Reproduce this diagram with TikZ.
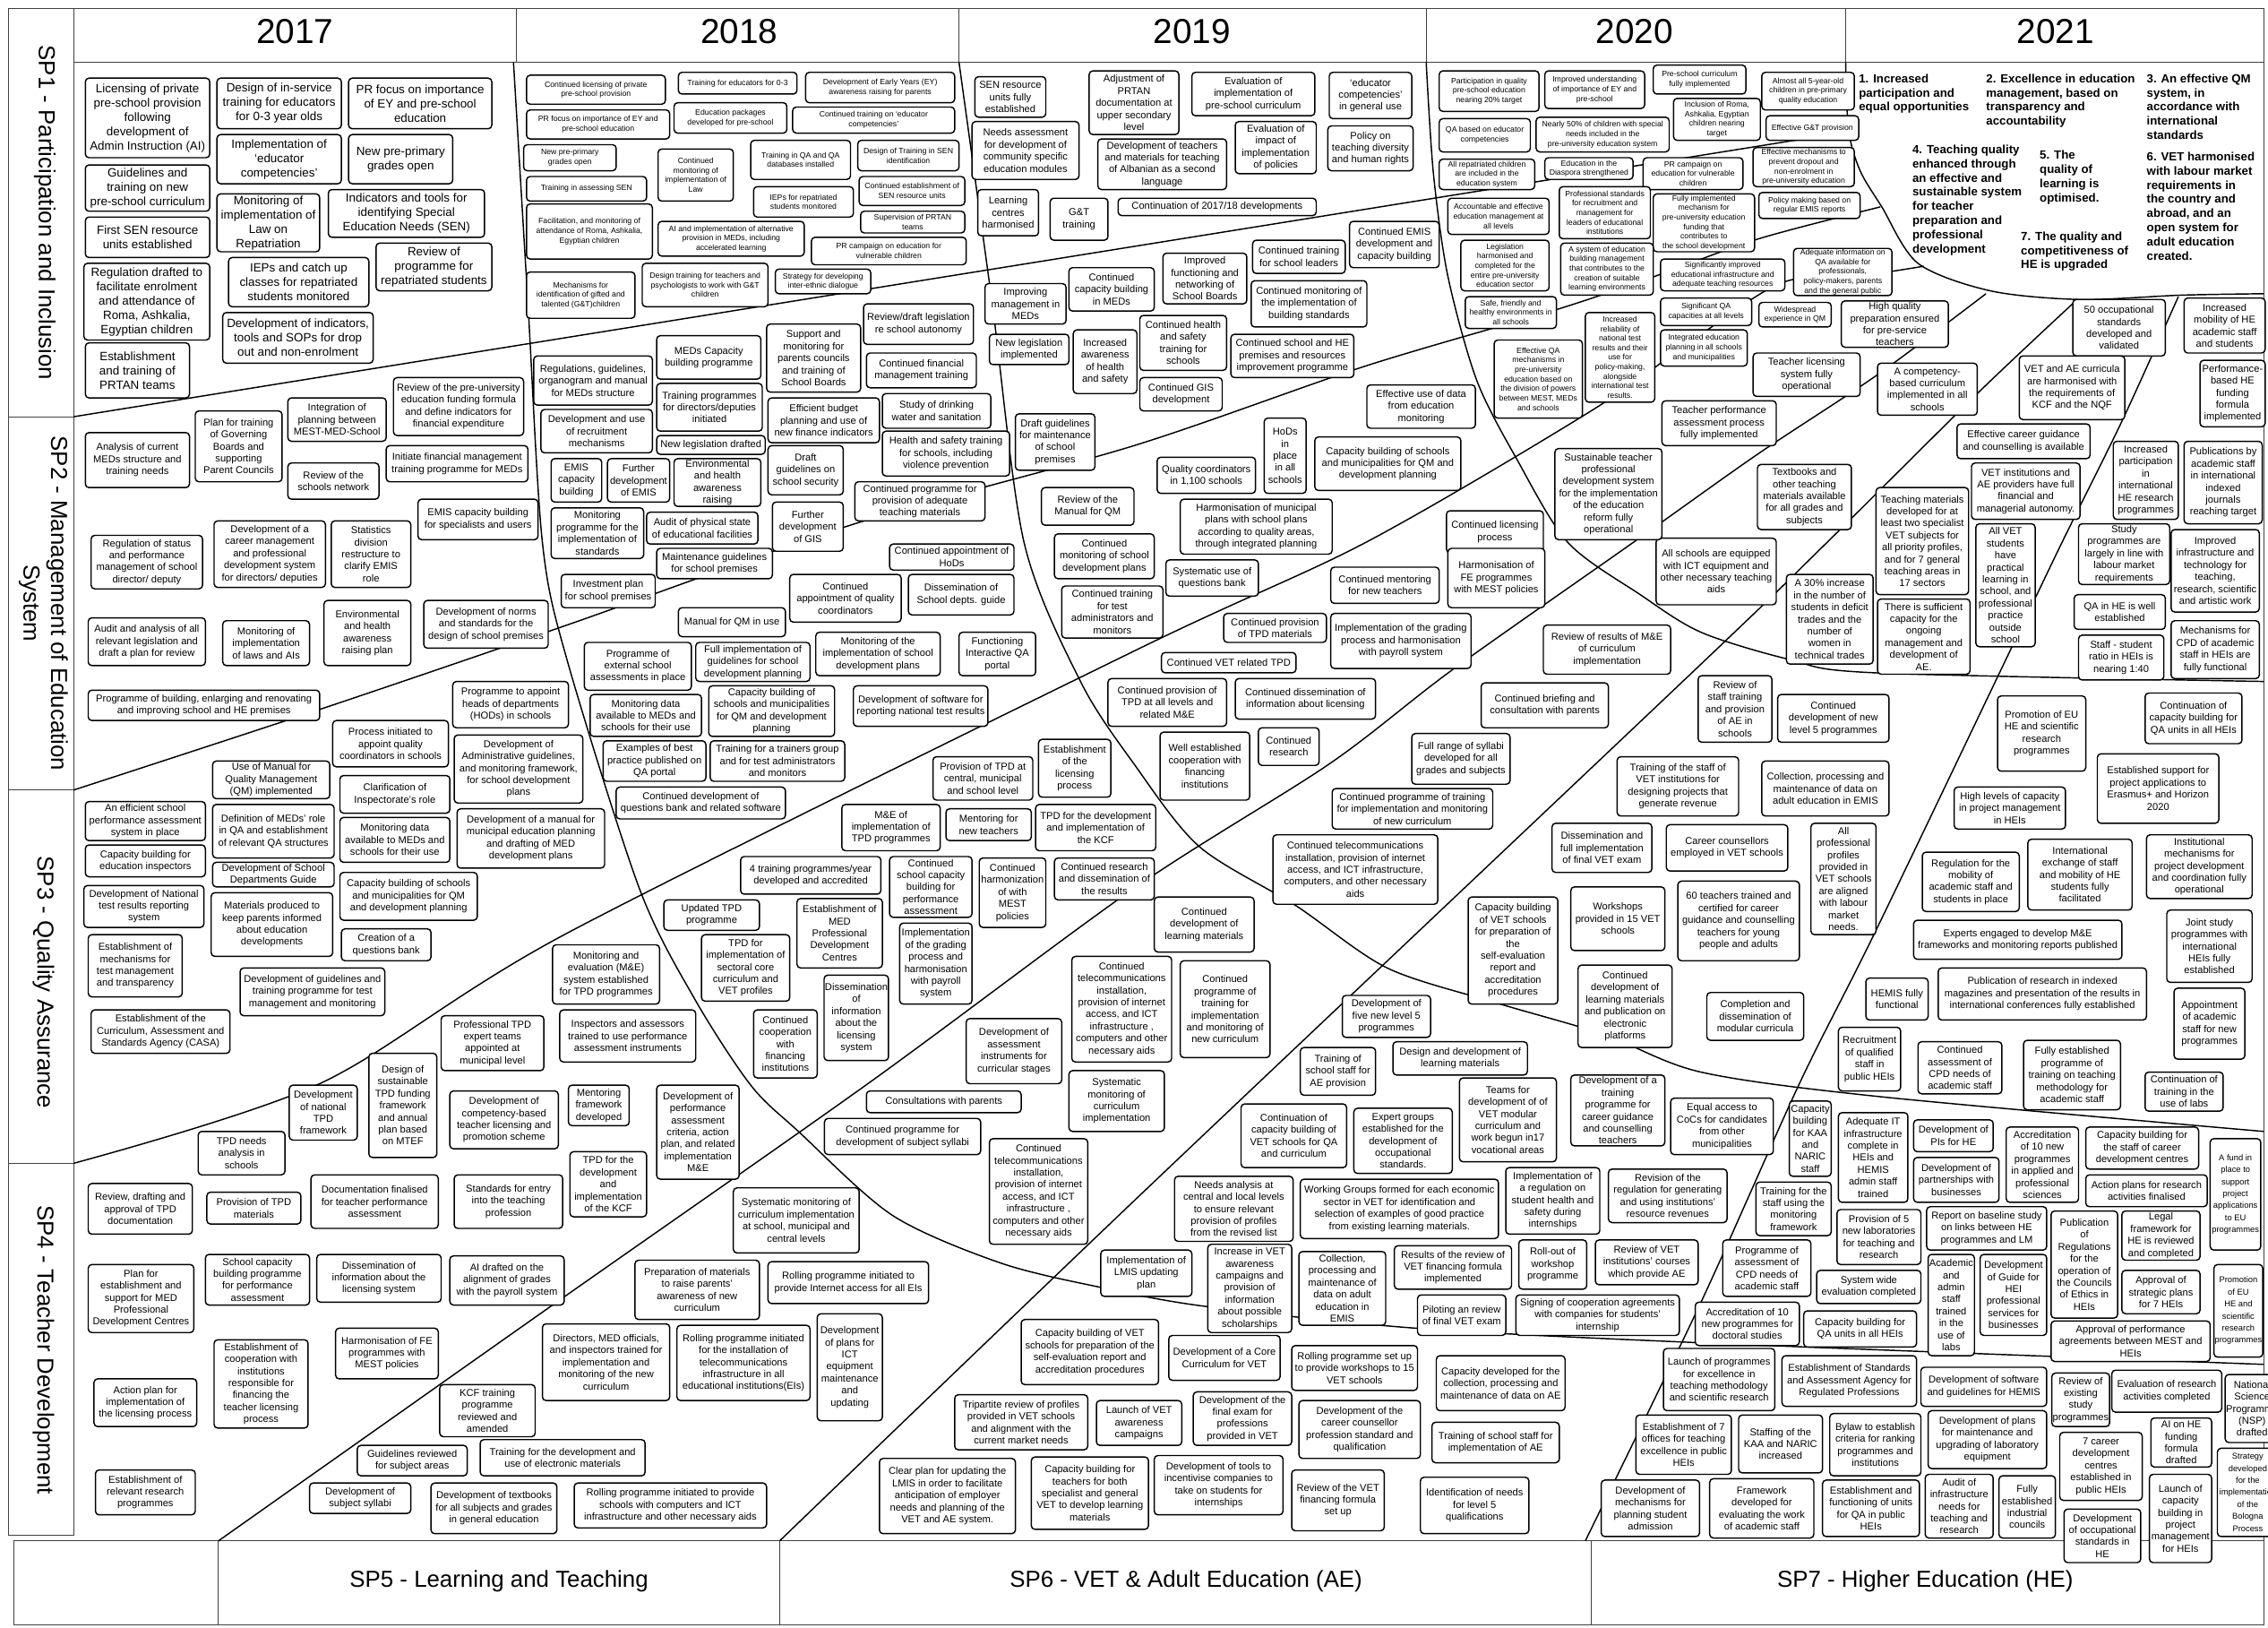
\documentclass[tikz,border=0pt]{standalone}
\usepackage{fontspec}
\setmainfont{Liberation Sans}
\newcommand\fntL{\fontsize{8.3}{9.9}\selectfont}
\newcommand\fntM{\fontsize{6.9}{8.3}\selectfont}
\newcommand\fntS{\fontsize{5.4}{6.6}\selectfont}
\newcommand\fntN{\fontsize{5.8}{8.3}\selectfont}
\newcommand\fntG{\fontsize{8.2}{9.8}\selectfont\bfseries}
\newcommand\Bx[7]{%
\pgfmathsetmacro\bxw{#4-(#2)}%
\pgfmathsetmacro\bxh{#5-(#3)}%
\pgfmathsetmacro\bxcx{(#2+#4)/2}%
\pgfmathsetmacro\bxcy{(#3+#5)/2}%
\node[bxs,#6,minimum width=\bxw pt,minimum height=\bxh pt] (#1) at (\bxcx,\bxcy) {#7};}
\begin{document}
\begin{tikzpicture}[x=1pt,y=-1pt,
 bxs/.style={draw,line width=0.9pt,rounded corners=2.5pt,fill=white,align=center,inner sep=0.6pt,font=\fntM},
 fl/.style={font=\fntL}, fs/.style={font=\fntS}, fn/.style={font=\fntN},
 sep/.style={line width=0.9pt},
 frm/.style={line width=0.7pt,draw=black!75},
 goal/.style={font=\fntG,align=left,anchor=north west,inner sep=0pt},
 yr/.style={font=\fontsize{24}{28}\selectfont},
 spl/.style={font=\fontsize{16}{19}\selectfont,align=center}]
\useasboundingbox (0,0) rectangle (1568,1125);
\fill[white] (0,0) rectangle (1568,1125);
% frame
\draw[frm] (6,6) rectangle (51,1061);
\draw[frm] (51,6) rectangle (1565,43);
\draw[frm] (357,6)--(357,43) (663,6)--(663,43) (986,6)--(986,43) (1276,6)--(1276,43);
\draw[frm] (6,288)--(51,288) (6,546)--(51,546) (6,804)--(51,804);
\draw[frm] (1565,43)--(1565,1065);
\draw[frm] (9.5,1065) rectangle (1565,1123);
\draw[frm] (151,1065)--(151,1123) (539,1065)--(539,1123) (1100,1065)--(1100,1123);
% labels
\node[yr] (y17) at (204,22) {2017};
\node[yr] (y18) at (511,22) {2018};
\node[yr] (y19) at (824,22) {2019};
\node[yr] (y20) at (1130,22) {2020};
\node[yr] (y21) at (1421,22) {2021};
\node[spl,rotate=-90] (sp1) at (31,147) {SP1 - Participation and Inclusion};
\node[spl,rotate=-90] (sp2) at (30,417) {SP2 - Management of Education\\System};
\node[spl,rotate=-90] (sp3) at (30,679) {SP3 - Quality Assurance};
\node[spl,rotate=-90] (sp4) at (30,933) {SP4 - Teacher Development};
\node[spl] (sp5) at (345,1093) {SP5 - Learning and Teaching};
\node[spl] (sp6) at (820,1093) {SP6 - VET \& Adult Education (AE)};
\node[spl] (sp7) at (1331,1093) {SP7 - Higher Education (HE)};
% separators
\draw[sep] (51,288) -- (1278,91);
\draw[sep] plot[smooth] coordinates {(51,546) (222,490) (392,432) (591,362) (784,308) (944,253) (1076,214) (1144,191) (1216,165) (1300,143)};
\draw[sep] plot[smooth] coordinates {(51,804) (221,749) (392,645) (784,450) (944,375) (1100,284) (1176,231) (1233,195) (1290,190) (1330,184)};
\draw[sep] plot[smooth] coordinates {(151,1065) (382,902) (600,749) (784,614) (919,528) (1004,463) (1129,375) (1215,314) (1298,259) (1373,203)};
\draw[sep] plot[smooth] coordinates {(539,1065) (784,830) (1176,459) (1263,375) (1367,272) (1435,208)};
\draw[sep] plot[smooth] coordinates {(1096,1065) (1176,900) (1244,749) (1296,645) (1391,447) (1426,374) (1468,289) (1506,205)};
\draw[sep] plot[smooth] coordinates {(355,43) (365,210) (375,375) (392,456) (442,614) (480,690) (519,750) (552,782) (617,840) (692,873) (762,890) (834,903) (979,918) (1174,928) (1565,943)};
\draw[sep] plot[smooth] coordinates {(663,43) (686,210) (708,375) (747,471) (784,528) (829,585) (896,626) (959,669) (1034,693) (1109,715) (1176,741) (1300,758) (1565,782)};
\draw[sep] plot[smooth] coordinates {(986,43) (991,120) (1001,191) (1021,263) (1049,318) (1084,375) (1134,411) (1176,437) (1238,456) (1296,465) (1565,471)};
\draw[sep] plot[smooth] coordinates {(1276,43) (1278,90) (1286,118) (1301,143) (1326,182) (1376,201) (1438,207) (1508,204) (1565,203)};
% ---- 2017 SP1
\Bx{b1}{59}{54}{145}{109}{fl}{Licensing of private\\pre-school provision\\following\\development of\\Admin Instruction (AI)}
\Bx{b2}{150}{54}{236}{89}{fl}{Design of in-service\\training for educators\\for 0-3 year olds}
\Bx{b3}{241}{54}{340}{89}{fl}{PR focus on importance\\of EY and pre-school\\education}
\Bx{b4}{59}{114}{145}{146}{fl}{Guidelines and\\training on new\\pre-school curriculum}
\Bx{b5}{150}{93}{236}{127}{fl}{Implementation of\\`educator\\competencies'}
\Bx{b6}{241}{93}{313}{127}{fl}{New pre-primary\\grades open}
\Bx{b7}{59}{150}{145}{178}{fl}{First SEN resource\\units established}
\Bx{b8}{150}{134}{221}{174}{fl}{Monitoring of\\implementation of\\Law on\\Repatriation}
\Bx{b9}{227}{131}{335}{164}{fl}{Indicators and tools for\\identifying  Special\\Education Needs (SEN)}
\Bx{b10}{58}{182}{145}{235}{fl}{Regulation drafted to\\facilitate enrolment\\and attendance of\\Roma, Ashkalia,\\Egyptian children}
\Bx{b11}{158}{178}{255}{212}{fl}{IEPs and catch up\\classes for repatriated\\students monitored}
\Bx{b12}{260}{168}{340}{201}{fl}{Review of\\programme for\\repatriated students}
\Bx{b13}{154}{216}{258}{251}{fl}{Development of indicators,\\tools and SOPs for drop\\out and non-enrolment}
\Bx{b14}{59}{237}{131}{275}{fl}{Establishment\\and training of\\PRTAN teams}
% ---- 2017 SP2
\Bx{b15}{59}{299}{131}{337}{}{Analysis of current\\MEDs structure and\\training needs}
\Bx{b16}{135}{284}{195}{333}{}{Plan for training\\of Governing\\Boards and\\supporting\\Parent Councils}
\Bx{b17}{199}{275}{267}{305}{}{Integration of\\planning between\\MEST-MED-School}
\Bx{b18}{199}{320}{262}{345}{}{Review of the\\schools network}
\Bx{b19}{272}{261}{362}{301}{}{Review of the pre-university\\education funding formula\\and define indicators for\\financial expenditure}
\Bx{b20}{267}{308}{365}{333}{}{Initiate financial management\\training programme  for MEDs}
\Bx{b21}{289}{345}{372}{373}{}{EMIS capacity building\\for specialists and users}
\Bx{b22}{63}{370}{140}{407}{}{Regulation of status\\and performance\\management of school\\director/ deputy}
\Bx{b23}{148}{360}{225}{406}{}{Development of a\\career management\\and professional\\development system\\for directors/ deputies}
\Bx{b24}{229}{360}{284}{406}{}{Statistics\\division\\restructure to\\clarify EMIS\\role}
\Bx{b25}{61}{427}{142}{460}{}{Audit and analysis of all\\relevant legislation and\\draft a plan for review}
\Bx{b26}{154}{429}{214}{460}{}{Monitoring of\\implementation\\of laws and AIs}
\Bx{b27}{224}{415}{284}{460}{}{Environmental\\and health\\awareness\\raising plan}
\Bx{b28}{293}{415}{379}{448}{}{Development of norms\\and standards for the\\design of school premises}
\Bx{b29}{61}{477}{221}{498}{}{Programme of building, enlarging  and renovating\\and improving school and HE premises}
\Bx{b30}{313}{471}{393}{503}{}{Programme to appoint\\heads of departments\\(HODs) in schools}
\Bx{b31}{230}{498}{310}{530}{}{Process initiated to\\appoint quality\\coordinators in schools}
\Bx{b32}{147}{526}{228}{552}{}{Use of Manual for\\Quality Management\\(QM) implemented}
\Bx{b33}{314}{508}{403}{555}{}{Development of\\Administrative guidelines,\\and monitoring framework,\\for school development\\plans}
% ---- 2017 SP3
\Bx{b34}{59}{554}{142}{581}{}{An efficient school\\performance assessment\\system in place}
\Bx{b35}{147}{556}{231}{593}{}{Definition of MEDs' role\\in QA and  establishment\\of relevant QA structures}
\Bx{b36}{235}{536}{311}{562}{}{Clarification of\\Inspectorate's role}
\Bx{b37}{316}{559}{418}{600}{}{Development of a manual for\\municipal education planning\\and drafting of MED\\development plans}
\Bx{b38}{59}{584}{142}{606}{}{Capacity building for\\education inspectors}
\Bx{b39}{235}{565}{311}{596}{}{Monitoring data\\available to MEDs and\\schools for their use}
\Bx{b40}{147}{596}{231}{613}{}{Development of  School\\Departments Guide}
\Bx{b41}{58}{612}{141}{641}{}{Development of National\\test results reporting\\system}
\Bx{b42}{146}{617}{230}{661}{}{Materials produced to\\keep parents informed\\about education\\developments}
\Bx{b43}{235}{603}{330}{636}{}{Capacity building of schools\\and municipalities for QM\\and development planning}
\Bx{b44}{61}{646}{126}{689}{}{Establishment of\\mechanisms for\\test management\\and transparency}
\Bx{b45}{236}{642}{298}{664}{}{Creation of a\\questions bank}
\Bx{b46}{166}{669}{266}{702}{}{Development of guidelines and\\training programme for test\\management and monitoring}
\Bx{b47}{63}{698}{159}{728}{}{Establishment of the\\Curriculum, Assessment and\\Standards Agency (CASA)}
\Bx{b48}{305}{702}{376}{740}{}{Professional TPD\\expert teams\\appointed at\\municipal level}
% ---- 2017 SP4 / SP5
\Bx{b49}{255}{728}{302}{800}{}{Design of\\sustainable\\TPD funding\\framework\\and annual\\plan based\\on MTEF}
\Bx{b50}{200}{750}{247}{788}{}{Development\\of national\\TPD\\framework}
\Bx{b51}{137}{782}{197}{812}{}{TPD needs\\analysis in\\schools}
\Bx{b52}{311}{754}{386}{794}{}{Development of\\competency-based\\teacher licensing and\\promotion scheme}
\Bx{b53}{61}{818}{133}{853}{}{Review, drafting and\\approval of TPD\\documentation}
\Bx{b54}{143}{824}{208}{846}{}{Provision of TPD\\materials}
\Bx{b55}{215}{812}{303}{849}{}{Documentation finalised\\for teacher performance\\assessment}
\Bx{b56}{314}{812}{389}{849}{}{Standards for entry\\into the teaching\\profession}
\Bx{b57}{61}{874}{134}{921}{}{Plan for\\establishment  and\\support for MED\\Professional\\Development Centres}
\Bx{b58}{142}{867}{214}{902}{}{School capacity\\building programme\\for performance\\assessment}
\Bx{b59}{219}{867}{305}{900}{}{Dissemination of\\information about the\\licensing system}
\Bx{b60}{311}{868}{390}{902}{}{AI drafted on the\\alignment of grades\\with the payroll system}
\Bx{b61}{65}{953}{136}{986}{}{Action plan for\\implementation of\\the licensing process}
\Bx{b62}{148}{926}{213}{987}{}{Establishment of\\cooperation with\\institutions\\responsible for\\financing the\\teacher licensing\\process}
\Bx{b63}{232}{918}{303}{953}{}{Harmonisation of FE\\programmes with\\MEST policies}
\Bx{b64}{304}{957}{370}{993}{}{KCF training\\programme\\reviewed and\\amended}
\Bx{b65}{247}{999}{323}{1020}{}{Guidelines reviewed\\for subject areas}
\Bx{b66}{332}{995}{446}{1020}{}{Training for the development and\\use of electronic materials}
\Bx{b67}{66}{1016}{135}{1047}{}{Establishment of\\relevant research\\programmes}
\Bx{b68}{214}{1025}{284}{1046}{}{Development of\\subject syllabi}
\Bx{b69}{298}{1025}{385}{1060}{}{Development of textbooks\\for all subjects and grades\\in general education}
\Bx{b70}{393}{750}{435}{778}{}{Mentoring\\framework\\developed}
\Bx{b71}{454}{750}{511}{815}{}{Development of\\performance\\assessment\\criteria, action\\plan, and related\\implementation\\M\&E}
\Bx{b72}{394}{796}{447}{841}{}{TPD for the\\development\\and\\implementation\\of the KCF}
\Bx{b73}{599}{754}{706}{769}{}{Consultations with parents}
\Bx{b74}{570}{773}{678}{798}{}{Continued programme for\\development of subject syllabi}
\Bx{b75}{684}{787}{752}{860}{}{Continued\\telecommunications\\installation,\\provision of internet\\access, and ICT\\infrastructure ,\\computers and other\\necessary aids}
\Bx{b76}{507}{821}{594}{866}{}{Systematic monitoring of\\curriculum implementation\\at school, municipal and\\central levels}
\Bx{b77}{439}{871}{525}{912}{}{Preparation of  materials\\to raise  parents'\\awareness of new\\curriculum}
\Bx{b78}{531}{872}{642}{901}{}{Rolling programme initiated to\\provide Internet access for all EIs}
\Bx{b79}{761}{864}{824}{896}{}{Implementation of\\LMIS updating\\plan}
\Bx{b80}{375}{915}{463}{968}{}{Directors, MED officials,\\and inspectors trained for\\implementation and\\monitoring  of the new\\curriculum}
\Bx{b81}{468}{916}{560}{968}{}{Rolling programme initiated\\for the installation of\\telecommunications\\infrastructure in all\\educational institutions(EIs)}
\Bx{b82}{565}{908}{610}{982}{}{Development\\of plans for\\ICT\\equipment\\maintenance\\and\\updating}
\Bx{b83}{706}{912}{801}{957}{}{Capacity building of VET\\schools for preparation of the\\self-evaluation report and\\accreditation procedures}
\Bx{b84}{660}{964}{752}{1002}{}{Tripartite review of profiles\\provided in VET schools\\and alignment with the\\current market needs}
\Bx{b85}{758}{968}{817}{999}{}{Launch of  VET\\awareness\\campaigns}
\Bx{b86}{397}{1025}{530}{1056}{}{Rolling programme initiated to provide\\schools with computers and ICT\\infrastructure and other necessary aids}
\Bx{b87}{608}{1008}{702}{1060}{}{Clear plan for updating the\\LMIS in order to facilitate\\anticipation of employer\\needs  and planning of the\\VET and AE system.}
\Bx{b88}{713}{1007}{794}{1057}{}{Capacity building for\\teachers for both\\specialist and general\\VET to develop learning\\materials}
% ---- SP6 / SP7 lower
\Bx{b89}{1009}{745}{1076}{803}{}{Teams for\\development of of\\VET modular\\curriculum and\\work begun in17\\vocational areas}
\Bx{b90}{1086}{743}{1151}{792}{}{Development of a\\training\\programme for\\career guidance\\and counselling\\teachers}
\Bx{b91}{1155}{759}{1226}{798}{}{Equal access to\\CoCs for candidates\\from other\\municipalities}
\Bx{b92}{858}{763}{931}{807}{}{Continuation of\\capacity building of\\VET schools  for QA\\and curriculum}
\Bx{b93}{936}{766}{1004}{811}{}{Expert groups\\established for the\\development of\\occupational\\standards.}
\Bx{b94}{812}{813}{894}{858}{}{Needs analysis at\\central and local levels\\to ensure relevant\\provision of  profiles\\from the revised list}
\Bx{b95}{899}{815}{1036}{856}{}{Working Groups formed for each economic\\sector in VET  for identification and\\selection of examples of good practice\\from  existing learning materials.}
\Bx{b96}{1041}{807}{1106}{853}{}{Implementation of\\a regulation on\\student health  and\\safety during\\internships}
\Bx{b97}{1112}{808}{1194}{845}{}{Revision of the\\regulation for generating\\and using  institutions'\\resource revenues}
\Bx{b98}{835}{860}{893}{921}{}{Increase in VET\\awareness\\campaigns and\\provision of\\information\\about possible\\scholarships}
\Bx{b99}{898}{865}{958}{916}{}{Collection,\\processing and\\maintenance of\\data on adult\\education in\\EMIS}
\Bx{b100}{964}{861}{1045}{891}{}{Results of the review of\\VET financing formula\\implemented}
\Bx{b101}{1050}{857}{1097}{891}{}{Roll-out of\\workshop\\programme}
\Bx{b102}{1103}{857}{1174}{888}{}{Review of VET\\institutions' courses\\which provide AE}
\Bx{b103}{980}{895}{1041}{923}{}{Piloting an review\\of final VET exam}
\Bx{b104}{1048}{895}{1161}{923}{}{Signing of cooperation agreements\\with companies for students'\\internship}
\Bx{b105}{808}{923}{885}{954}{}{Development of a Core\\Curriculum for VET}
\Bx{b106}{893}{930}{980}{961}{}{Rolling programme set up\\to provide workshops to 15\\VET schools}
\Bx{b107}{993}{937}{1082}{975}{}{Capacity developed for the\\collection, processing and\\maintenance of data on AE}
\Bx{b108}{825}{962}{893}{999}{}{Development of the\\final exam for\\professions\\provided in VET}
\Bx{b109}{898}{968}{982}{1008}{}{Development of the\\career counsellor\\profession standard and\\qualification}
\Bx{b110}{990}{983}{1078}{1011}{}{Training of school staff for\\implementation of AE}
\Bx{b111}{798}{1006}{887}{1047}{}{Development of tools to\\incentivise companies to\\take on  students for\\internships}
\Bx{b112}{893}{1016}{957}{1058}{}{Review of the VET\\financing formula\\set up}
\Bx{b113}{982}{1021}{1057}{1060}{}{Identification of  needs\\for level 5\\qualifications}
\Bx{b114}{1107}{1023}{1175}{1062}{}{Development of\\mechanisms for\\planning student\\admission}
\Bx{b115}{1150}{932}{1227}{975}{}{Launch of programmes\\for excellence in\\teaching methodology\\and scientific research}
\Bx{b116}{1131}{978}{1197}{1019}{}{Establishment of  7\\offices for teaching\\excellence in public\\HEIs}
\Bx{b117}{1237}{761}{1266}{813}{}{Capacity\\building\\for KAA\\and\\NARIC\\staff}
\Bx{b118}{1271}{769}{1319}{831}{}{Adequate IT\\infrastructure\\complete in\\HEIs  and\\HEMIS\\admin staff\\trained}
\Bx{b119}{1323}{774}{1378}{796}{}{Development of\\PIs for HE}
\Bx{b120}{1387}{779}{1437}{831}{}{Accreditation\\of  10 new\\programmes\\in applied and\\professional\\sciences}
\Bx{b121}{1442}{779}{1520}{808}{}{Capacity building for\\the staff of career\\development centres}
\Bx{b122}{1323}{800}{1382}{831}{}{Development of\\partnerships with\\businesses}
\Bx{b123}{1442}{812}{1526}{834}{}{Action plans  for research\\activities finalised}
\Bx{b124}{1528}{787}{1563}{864}{fn}{A fund in\\place to\\support\\project\\applications\\to EU\\programmes}
\Bx{b125}{1214}{817}{1266}{854}{}{Training for the\\staff using the\\monitoring\\framework}
\Bx{b126}{1270}{836}{1328}{874}{}{Provision of 5\\new laboratories\\for teaching and\\research}
\Bx{b127}{1332}{834}{1415}{864}{}{Report on baseline study\\on links between HE\\programmes and LM}
\Bx{b128}{1418}{837}{1464}{911}{}{Publication\\of\\Regulations\\for the\\operation of\\the Councils\\of Ethics in\\HEIs}
\Bx{b129}{1467}{837}{1521}{871}{}{Legal\\framework for\\HE is reviewed\\and completed}
\Bx{b130}{1191}{857}{1252}{896}{}{Programme of\\assessment of\\CPD needs of\\academic staff}
\Bx{b131}{1256}{878}{1328}{901}{}{System wide\\evaluation completed}
\Bx{b132}{1333}{867}{1365}{937}{}{Academic\\and\\admin\\staff\\trained\\in the\\use of\\labs}
\Bx{b133}{1369}{867}{1415}{923}{}{Development\\of Guide for\\HEI\\professional\\services for\\businesses}
\Bx{b134}{1467}{878}{1521}{908}{}{Approval of\\strategic plans\\for 7 HEIs}
\Bx{b135}{1532}{874}{1563}{938}{fn}{Promotion\\of EU\\HE and\\scientific\\research\\programmes}
\Bx{b136}{1172}{900}{1244}{930}{}{Accreditation of 10\\new programmes for\\doctoral studies}
\Bx{b137}{1247}{906}{1325}{931}{}{Capacity building for\\QA units in all HEIs}
\Bx{b138}{1418}{913}{1528}{941}{}{Approval of  performance\\agreements between MEST and\\HEIs}
\Bx{b139}{1232}{937}{1325}{972}{}{Establishment of Standards\\and Assessment Agency for\\Regulated Professions}
\Bx{b140}{1328}{945}{1415}{972}{}{Development of software\\and guidelines for HEMIS}
\Bx{b141}{1419}{949}{1458}{986}{}{Review of\\existing\\study\\programmes}
\Bx{b142}{1460}{947}{1536}{976}{}{Evaluation of research\\activities completed}
\Bx{b143}{1539}{950}{1575}{997}{}{National\\Science\\Programme\\(NSP)\\drafted}
\Bx{b144}{1202}{978}{1260}{1018}{}{Staffing of the\\KAA and NARIC\\increased}
\Bx{b145}{1265}{977}{1328}{1020}{}{Bylaw to establish\\criteria for ranking\\programmes and\\institutions}
\Bx{b146}{1333}{975}{1415}{1015}{}{Development of plans\\for maintenance and\\upgrading of laboratory\\equipment}
\Bx{b147}{1424}{990}{1481}{1037}{}{7 career\\development\\centres\\established in\\public HEIs}
\Bx{b148}{1487}{980}{1529}{1014}{}{AI on HE\\funding\\formula\\drafted}
\Bx{b149}{1533}{1001}{1575}{1062}{fn}{Strategy\\developed\\for the\\implementation\\of the\\Bologna\\Process}
\Bx{b150}{1182}{1022}{1254}{1063}{}{Framework\\developed for\\evaluating the work\\of  academic staff}
\Bx{b151}{1260}{1023}{1327}{1062}{}{Establishment and\\functioning of units\\for QA in public\\HEIs}
\Bx{b152}{1331}{1019}{1378}{1063}{}{Audit of\\infrastructure\\needs for\\teaching and\\research}
\Bx{b153}{1382}{1020}{1421}{1063}{}{Fully\\established\\industrial\\councils}
\Bx{b154}{1427}{1043}{1480}{1080}{}{Development\\of occupational\\standards in\\HE}
\Bx{b155}{1486}{1019}{1529}{1080}{}{Launch of\\capacity\\building in\\project\\management\\for HEIs}
% ---- 2020/2021 middle
\Bx{b156}{1174}{467}{1225}{513}{}{Review of\\staff training\\and provision\\of AE in\\schools}
\Bx{b157}{1229}{480}{1306}{513}{}{Continued\\development of new\\level 5 programmes}
\Bx{b158}{1381}{481}{1442}{533}{}{Promotion of EU\\HE and scientific\\research\\programmes}
\Bx{b159}{1483}{479}{1550}{514}{}{Continuation of\\capacity building for\\QA units in all HEIs}
\Bx{b160}{1118}{523}{1202}{564}{}{Training of the staff of\\VET institutions for\\designing projects that\\generate revenue}
\Bx{b161}{1218}{526}{1306}{564}{}{Collection, processing and\\maintenance of data on\\adult education in EMIS}
\Bx{b162}{1450}{521}{1534}{569}{}{Established support  for\\project applications to\\Erasmus+ and Horizon\\2020}
\Bx{b163}{1351}{544}{1428}{573}{}{High levels of capacity\\in project management\\in HEIs}
\Bx{b164}{1152}{570}{1236}{602}{}{Career counsellors\\employed in VET schools}
\Bx{b165}{1252}{569}{1297}{646}{}{All\\professional\\profiles\\provided in\\VET schools\\are aligned\\with labour\\market\\needs.}
\Bx{b166}{1329}{589}{1396}{630}{}{Regulation for the\\mobility of\\academic staff and\\students in place}
\Bx{b167}{1402}{580}{1474}{629}{}{International\\exchange of staff\\and mobility of  HE\\students fully\\facilitated}
\Bx{b168}{1484}{577}{1557}{621}{}{Institutional\\mechanisms for\\project development\\and coordination fully\\operational}
\Bx{b169}{1160}{609}{1244}{664}{}{60 teachers  trained and\\certified for career\\guidance and counselling\\teachers for young\\people and adults}
\Bx{b170}{1323}{636}{1467}{663}{}{Experts engaged to develop M\&E\\frameworks and monitoring reports published}
\Bx{b171}{1498}{629}{1557}{679}{}{Joint study\\programmes with\\international\\HEIs fully\\established}
\Bx{b172}{1180}{686}{1247}{719}{}{Completion and\\dissemination  of\\modular curricula}
\Bx{b173}{1290}{676}{1333}{705}{}{HEMIS  fully\\functional}
\Bx{b174}{1340}{669}{1484}{705}{}{Publication of research in indexed\\magazines and presentation of the results in\\international conferences fully established}
\Bx{b175}{1503}{683}{1552}{732}{}{Appointment\\of academic\\staff for  new\\programmes}
\Bx{b176}{1271}{710}{1314}{754}{}{Recruitment\\of qualified\\staff in\\public HEIs}
\Bx{b177}{1326}{720}{1384}{756}{}{Continued\\assessment of\\CPD needs of\\academic staff}
\Bx{b178}{1399}{719}{1466}{767}{}{Fully  established\\programme of\\training on teaching\\methodology for\\academic staff}
\Bx{b179}{1483}{741}{1537}{768}{}{Continuation of\\training in the\\use of labs}
\Bx{b180}{1235}{397}{1295}{459}{}{A 30\% increase\\in the number of\\students in deficit\\trades and the\\number of\\women in\\technical trades}
\Bx{b181}{1298}{414}{1362}{466}{}{There is sufficient\\capacity for the\\ongoing\\management and\\development of\\AE.}
\Bx{b182}{1145}{372}{1228}{418}{}{All schools are equipped\\with ICT equipment and\\other necessary teaching\\aids}
\Bx{b183}{1297}{337}{1361}{411}{}{Teaching materials\\developed for at\\least two specialist\\VET subjects for\\all priority profiles,\\and for 7 general\\teaching areas in\\17 sectors}
\Bx{b184}{1366}{362}{1407}{447}{}{All VET\\students\\have\\practical\\learning in\\school, and\\professional\\practice\\outside\\school}
\Bx{b185}{1437}{362}{1500}{404}{}{Study\\programmes are\\largely in line with\\labour market\\requirements}
\Bx{b186}{1501}{366}{1562}{423}{}{Improved\\infrastructure and\\technology for\\teaching,\\research, scientific\\and artistic work}
\Bx{b187}{1434}{411}{1497}{435}{}{QA in HE is well\\established}
\Bx{b188}{1437}{439}{1496}{470}{}{Staff - student\\ratio in HEIs is\\nearing 1:40}
\Bx{b189}{1501}{429}{1562}{469}{}{Mechanisms for\\CPD of academic\\staff in HEIs are\\fully functional}
% ---- 2021 top
\Bx{b190}{1143}{45}{1207}{65}{fs}{Pre-school curriculum\\fully implemented}
\Bx{b191}{1218}{50}{1282}{76}{fs}{Almost all 5-year-old\\children in pre-primary\\quality education}
\Bx{b192}{1157}{68}{1217}{97}{fs}{Inclusion of Roma,\\Ashkalia, Egyptian\\children nearing\\target}
\Bx{b193}{1221}{80}{1285}{97}{fs}{Effective G\&T provision}
\Bx{b194}{1212}{102}{1282}{129}{fs}{Effective mechanisms to\\prevent dropout and\\non-enrolment in\\pre-university education}
\Bx{b195}{1136}{109}{1205}{131}{fs}{PR campaign on\\education  for vulnerable\\children}
\Bx{b196}{1143}{134}{1213}{174}{fs}{Fully implemented\\mechanism for\\pre-university education\\funding that\\contributes to\\the school development}
\Bx{b197}{1216}{133}{1286}{151}{fs}{Policy making based on\\regular EMIS reports}
\Bx{b198}{1148}{179}{1234}{201}{fs}{Significantly improved\\educational infrastructure and\\adequate teaching resources}
\Bx{b199}{1240}{172}{1308}{204}{fs}{Adequate information on\\QA available for\\professionals,\\policy-makers, parents\\and the general public}
\Bx{b200}{1148}{206}{1211}{225}{fs}{Significant QA\\capacities at all levels}
\Bx{b201}{1216}{209}{1266}{226}{fs}{Widespread\\experience in QM}
\Bx{b202}{1273}{208}{1347}{240}{}{High quality\\preparation ensured\\for pre-service\\teachers}
\Bx{b203}{1148}{228}{1208}{253}{fs}{Integrated education\\planning in all schools\\and municipalities}
\Bx{b204}{1212}{244}{1286}{274}{}{Teacher licensing\\system fully\\operational}
\Bx{b205}{1298}{251}{1367}{287}{}{A competency-\\based curriculum\\implemented in all\\schools}
\Bx{b206}{1149}{277}{1228}{308}{}{Teacher performance\\assessment process\\fully implemented}
\Bx{b207}{1215}{321}{1280}{366}{}{Textbooks and\\other teaching\\materials available\\for all grades and\\subjects}
\Bx{b208}{1433}{207}{1497}{246}{}{50 occupational\\standards\\developed and\\validated}
\Bx{b209}{1510}{206}{1566}{244}{}{Increased\\mobility of HE\\academic staff\\and students}
\Bx{b210}{1396}{246}{1469}{290}{}{VET and AE curricula\\are harmonised with\\the requirements of\\KCF and the NQF}
\Bx{b211}{1521}{249}{1566}{295}{}{Performance-\\based HE\\funding\\formula\\implemented}
\Bx{b212}{1353}{293}{1445}{317}{}{Effective career guidance\\and counselling is available}
\Bx{b213}{1363}{320}{1438}{359}{}{VET institutions and\\AE providers have full\\financial and\\managerial autonomy.}
\Bx{b214}{1461}{305}{1506}{359}{}{Increased\\participation\\in\\international\\HE research\\programmes}
\Bx{b215}{1510}{305}{1564}{362}{}{Publications by\\academic staff\\in international\\indexed\\journals\\reaching target}
% ---- 2018 SP1
\Bx{c1}{364}{52}{460}{72}{fs}{Continued licensing of private\\pre-school provision}
\Bx{c2}{469}{50}{551}{65}{fs}{Training for educators for 0-3}
\Bx{c3}{557}{50}{660}{71}{fs}{Development of Early Years (EY)\\awareness raising for parents}
\Bx{c4}{364}{76}{463}{96}{fs}{PR focus on importance of EY and\\pre-school education}
\Bx{c5}{466}{71}{544}{92}{fs}{Education packages\\developed for pre-school}
\Bx{c6}{548}{74}{660}{92}{fs}{Continued training on `educator\\competencies'}
\Bx{c7}{362}{100}{426}{118}{fs}{New pre-primary\\grades open}
\Bx{c8}{455}{103}{507}{139}{fs}{Continued\\monitoring of\\implementation of\\Law}
\Bx{c9}{519}{97}{588}{124}{fs}{Training in QA  and QA\\databases installed}
\Bx{c10}{593}{97}{663}{118}{fs}{Design of Training in SEN\\identification}
\Bx{c11}{364}{122}{447}{139}{fs}{Training in assessing SEN}
\Bx{c12}{521}{129}{590}{150}{fs}{IEPs for repatriated\\students monitored}
\Bx{c13}{594}{122}{667}{142}{fs}{Continued establishment of\\SEN resource units}
\Bx{c14}{364}{141}{451}{179}{fs}{Facilitation, and monitoring of\\attendance of Roma, Ashkalia,\\Egyptian children}
\Bx{c15}{595}{146}{667}{161}{fs}{Supervision of PRTAN\\teams}
\Bx{c16}{455}{153}{556}{177}{fs}{AI and implementation of alternative\\provision in MEDs, including\\accelerated learning}
\Bx{c17}{561}{164}{668}{183}{fs}{PR campaign on education  for\\vulnerable children}
\Bx{c18}{364}{188}{439}{220}{fs}{Mechanisms for\\identification of  gifted and\\talented (G\&T)children}
\Bx{c19}{444}{182}{531}{212}{fs}{Design training for teachers and\\psychologists to work with G\&T\\children}
\Bx{c20}{536}{186}{602}{203}{fs}{Strategy for developing\\inter-ethnic dialogue}
% ---- 2018 SP2
\Bx{c21}{369}{246}{451}{280}{}{Regulations, guidelines,\\organogram and manual\\for MEDs structure}
\Bx{c22}{454}{232}{526}{262}{}{MEDs Capacity\\building programme}
\Bx{c23}{530}{224}{595}{271}{}{Support  and\\monitoring for\\parents councils\\and training of\\School Boards}
\Bx{c24}{597}{210}{673}{238}{}{Review/draft legislation\\re school autonomy}
\Bx{c25}{374}{283}{451}{313}{}{Development and use\\of recruitment\\mechanisms}
\Bx{c26}{454}{265}{527}{298}{}{Training programmes\\for directors/deputies\\initiated}
\Bx{c27}{599}{244}{675}{268}{}{Continued financial\\management training}
\Bx{c28}{531}{275}{608}{306}{}{Efficient budget\\planning and use of\\new finance indicators}
\Bx{c29}{454}{301}{529}{314}{}{New legislation drafted}
\Bx{c30}{610}{272}{685}{296}{}{Study of drinking\\water and sanitation}
\Bx{c31}{610}{298}{698}{329}{}{Health and safety training\\for schools, including\\violence prevention}
\Bx{c32}{702}{286}{757}{325}{}{Draft guidelines\\for maintenance\\of school\\premises}
\Bx{c33}{381}{317}{416}{347}{}{EMIS\\capacity\\building}
\Bx{c34}{420}{317}{463}{347}{}{Further\\development\\of EMIS}
\Bx{c35}{466}{317}{526}{350}{}{Environmental\\and health\\awareness\\raising}
\Bx{c36}{531}{308}{583}{342}{}{Draft\\guidelines on\\school security}
\Bx{c37}{591}{333}{681}{360}{}{Continued programme for\\provision of adequate\\teaching materials}
\Bx{c38}{381}{351}{445}{386}{}{Monitoring\\programme for the\\implementation of\\standards}
\Bx{c39}{447}{354}{524}{376}{}{Audit of physical state\\of educational facilities}
\Bx{c40}{534}{347}{583}{381}{}{Further\\development\\of GIS}
\Bx{c41}{720}{337}{784}{363}{}{Review of the\\Manual for QM}
\Bx{c42}{729}{369}{798}{400}{}{Continued\\monitoring  of school\\development plans}
% ---- 2019
\Bx{c43}{674}{53}{723}{81}{}{SEN resource\\units fully\\established}
\Bx{c44}{672}{84}{746}{124}{}{Needs assessment\\for development of\\community specific\\education modules}
\Bx{c45}{676}{131}{718}{163}{}{Learning\\centres\\harmonised}
\Bx{c46}{726}{137}{766}{166}{}{G\&T\\training}
\Bx{c47}{753}{49}{815}{93}{}{Adjustment of\\PRTAN\\documentation at\\upper secondary\\level}
\Bx{c48}{759}{96}{848}{131}{}{Development of teachers\\and materials for teaching\\of Albanian as a second\\language}
\Bx{c49}{773}{137}{910}{149}{}{Continuation of 2017/18 developments}
\Bx{c50}{824}{50}{909}{80}{}{Evaluation of\\implementation of\\pre-school curriculum}
\Bx{c51}{854}{84}{910}{120}{}{Evaluation of\\impact of\\implementation\\of policies}
\Bx{c52}{919}{50}{976}{82}{}{`educator\\competencies'\\in general use}
\Bx{c53}{918}{87}{977}{118}{}{Policy on\\teaching diversity\\and human rights}
\Bx{c54}{681}{196}{737}{224}{}{Improving\\management in\\MEDs}
\Bx{c55}{684}{231}{739}{252}{}{New legislation\\implemented}
\Bx{c56}{739}{185}{798}{215}{}{Continued\\capacity building\\in MEDs}
\Bx{c57}{742}{228}{786}{272}{}{Increased\\awareness\\of health\\and safety}
\Bx{c58}{804}{175}{862}{210}{}{Improved\\functioning and\\networking of\\School Boards}
\Bx{c59}{866}{166}{930}{189}{}{Continued training\\for school leaders}
\Bx{c60}{933}{153}{995}{185}{}{Continued EMIS\\development and\\capacity building}
\Bx{c61}{865}{194}{945}{226}{}{Continued monitoring of\\the implementation of\\building standards}
\Bx{c62}{788}{218}{848}{256}{}{Continued health\\and safety\\training for\\schools}
\Bx{c63}{851}{231}{936}{261}{}{Continued school and HE\\premises and resources\\improvement programme}
\Bx{c64}{788}{261}{845}{284}{}{Continued GIS\\development}
\Bx{c65}{945}{266}{1020}{296}{}{Effective use of data\\from education\\monitoring}
\Bx{c66}{874}{289}{903}{341}{}{HoDs\\in\\place\\in all\\schools}
\Bx{c67}{800}{316}{868}{341}{}{Quality coordinators\\in 1,100 schools}
\Bx{c68}{909}{302}{1010}{339}{}{Capacity building of schools\\and municipalities for QM and\\development planning}
\Bx{c69}{816}{345}{921}{383}{}{Harmonisation of municipal\\plans with school plans\\according to quality areas,\\through integrated planning}
\Bx{c70}{1000}{353}{1067}{382}{}{Continued licensing\\process}
\Bx{c71}{1075}{310}{1149}{373}{}{Sustainable teacher\\professional\\development system\\for the implementation\\of the education\\reform fully\\operational}
% ---- 2020 SP1/SP2
\Bx{d1}{995}{49}{1064}{77}{fs}{Participation in quality\\pre-school education\\nearing 20\% target}
\Bx{d2}{1068}{49}{1137}{75}{fs}{Improved understanding\\of importance of EY and\\pre-school}
\Bx{d3}{995}{82}{1058}{105}{fs}{QA based on educator\\competencies}
\Bx{d4}{1062}{81}{1154}{105}{fs}{Nearly 50\% of children with special\\needs included in the\\pre-university education system}
\Bx{d5}{995}{110}{1061}{131}{fs}{All repatriated children\\are included in the\\education system}
\Bx{d6}{1068}{109}{1129}{124}{fs}{Education in the\\Diaspora strengthened}
\Bx{d7}{1001}{137}{1071}{162}{fs}{Accountable and effective\\education management at\\all levels}
\Bx{d8}{1078}{129}{1141}{165}{fs}{Professional standards\\for recruitment and\\management for\\leaders of educational\\institutions}
\Bx{d9}{1010}{166}{1071}{201}{fs}{Legislation\\harmonised and\\completed for the\\entire pre-university\\education sector}
\Bx{d10}{1079}{168}{1143}{204}{fs}{A system of education\\building management\\that contributes to the\\creation of suitable\\learning environments}
\Bx{d11}{1013}{205}{1076}{227}{fs}{Safe, friendly and\\healthy environments in\\all schools}
\Bx{d12}{1033}{235}{1094}{289}{fs}{Effective QA\\mechanisms in\\pre-university\\education based on\\the division of powers\\between MEST, MEDs\\and schools}
\Bx{d13}{1096}{216}{1144}{278}{fs}{Increased\\reliability of\\national test\\results and their\\use for\\policy-making,\\alongside\\international test\\results.}
% ---- 2020 rest
\Bx{d14}{806}{387}{870}{412}{}{Systematic use of\\questions bank}
\Bx{d15}{734}{405}{804}{441}{}{Continued training\\for test\\administrators and\\monitors}
\Bx{d16}{920}{392}{995}{417}{}{Continued mentoring\\for new teachers}
\Bx{d17}{1001}{379}{1068}{420}{}{Harmonisation of\\FE programmes\\with MEST policies}
\Bx{d18}{846}{424}{917}{444}{}{Continued provision\\of TPD materials}
\Bx{d19}{920}{424}{1017}{462}{}{Implementation of the grading\\process and harmonisation\\with payroll system}
\Bx{d20}{803}{451}{896}{465}{}{Continued VET related TPD}
\Bx{d21}{1067}{432}{1155}{466}{}{Review of results of M\&E\\of curriculum\\implementation}
\Bx{d22}{766}{469}{848}{502}{}{Continued provision of\\TPD at all levels and\\related M\&E}
\Bx{d23}{854}{469}{951}{497}{}{Continued dissemination of\\information about  licensing}
\Bx{d24}{1024}{472}{1112}{503}{}{Continued briefing and\\consultation with parents}
\Bx{d25}{802}{506}{864}{553}{}{Well established\\cooperation with\\financing\\institutions}
\Bx{d26}{870}{503}{912}{529}{}{Continued\\research}
\Bx{d27}{976}{507}{1044}{542}{}{Full range of syllabi\\developed for all\\grades and subjects}
\Bx{d28}{921}{545}{1032}{573}{}{Continued programme of training\\for implementation and monitoring\\of new curriculum}
\Bx{d29}{1073}{569}{1142}{603}{}{Dissemination and\\full implementation\\of final VET exam}
\Bx{d30}{880}{577}{994}{625}{}{Continued telecommunications\\installation, provision of internet\\access, and ICT infrastructure,\\computers, and other necessary\\aids}
\Bx{d31}{798}{620}{867}{658}{}{Continued\\development of\\learning materials}
\Bx{d32}{1015}{620}{1077}{694}{}{Capacity building\\of VET schools\\for preparation of\\the\\self-evaluation\\report and\\accreditation\\procedures}
\Bx{d33}{1086}{613}{1151}{657}{}{Workshops\\provided in 15 VET\\schools}
\Bx{d34}{1091}{667}{1156}{724}{}{Continued\\development of\\learning materials\\and publication  on\\electronic\\platforms}
\Bx{d35}{741}{661}{810}{734}{}{Continued\\telecommunications\\installation,\\provision of internet\\access, and ICT\\infrastructure ,\\computers and other\\necessary aids}
\Bx{d36}{816}{664}{878}{731}{}{Continued\\programme of\\training for\\implementation\\and monitoring of\\new curriculum}
\Bx{d37}{928}{688}{989}{717}{}{Development of\\five new level 5\\programmes}
\Bx{d38}{963}{720}{1056}{743}{}{Design and development of\\learning materials}
\Bx{d39}{899}{724}{951}{757}{}{Training of\\school staff for\\AE provision}
\Bx{d40}{739}{740}{805}{782}{}{Systematic\\monitoring of\\curriculum\\implementation}
% ---- 2018 SP3/SP4
\Bx{e1}{454}{379}{534}{400}{}{Maintenance guidelines\\for school premises}
\Bx{e2}{388}{397}{453}{420}{}{Investment plan\\for school premises}
\Bx{e3}{546}{397}{623}{430}{}{Continued\\appointment of  quality\\coordinators}
\Bx{e4}{615}{376}{701}{394}{}{Continued appointment of\\HoDs}
\Bx{e5}{628}{397}{701}{425}{}{Dissemination of\\School depts. guide}
\Bx{e6}{469}{420}{543}{440}{}{Manual for QM in use}
\Bx{e7}{404}{444}{478}{477}{}{Programme of\\external school\\assessments in place}
\Bx{e8}{481}{444}{560}{471}{}{Full implementation of\\guidelines for school\\development planning}
\Bx{e9}{564}{437}{650}{467}{}{Monitoring of the\\implementation of school\\development plans}
\Bx{e10}{663}{437}{716}{467}{}{Functioning\\Interactive QA\\portal}
\Bx{e11}{408}{480}{485}{509}{}{Monitoring data\\available to MEDs and\\schools for their use}
\Bx{e12}{490}{474}{577}{509}{}{Capacity building of\\schools and municipalities\\for QM and development\\planning}
\Bx{e13}{590}{474}{683}{502}{}{Development of  software for\\reporting national test results}
\Bx{e14}{417}{512}{488}{540}{}{Examples of best\\practice published on\\QA portal}
\Bx{e15}{491}{512}{584}{540}{}{Training for a trainers group\\and for test administrators\\and monitors}
\Bx{e16}{426}{544}{543}{566}{}{Continued development of\\questions bank and related software}
\Bx{e17}{645}{523}{714}{553}{}{Provision of TPD at\\central, municipal\\and school level}
\Bx{e18}{718}{511}{768}{551}{}{Establishment\\of the\\licensing\\process}
\Bx{e19}{582}{556}{650}{588}{}{M\&E of\\implementation of\\TPD programmes}
\Bx{e20}{654}{559}{713}{581}{}{Mentoring for\\new teachers}
\Bx{e21}{716}{556}{799}{588}{}{TPD for the development\\and implementation of\\the KCF}
\Bx{e22}{512}{592}{609}{618}{}{4 training programmes/year\\developed and accredited}
\Bx{e23}{615}{592}{672}{634}{}{Continued\\school capacity\\building for\\performance\\assessment}
\Bx{e24}{677}{593}{723}{641}{}{Continued\\harmonization\\of with\\MEST\\policies}
\Bx{e25}{729}{593}{798}{622}{}{Continued research\\and dissemination of\\the results}
\Bx{e26}{459}{622}{525}{643}{}{Updated  TPD\\programme}
\Bx{e27}{551}{621}{610}{669}{}{Establishment of\\MED\\Professional\\Development\\Centres}
\Bx{e28}{485}{646}{546}{692}{}{TPD for\\implementation of\\sectoral core\\curriculum and\\VET profiles}
\Bx{e29}{622}{638}{672}{694}{}{Implementation\\of the grading\\process and\\harmonisation\\with payroll\\system}
\Bx{e30}{382}{653}{456}{694}{}{Monitoring and\\evaluation (M\&E)\\system established\\for TPD programmes}
\Bx{e31}{570}{674}{614}{733}{}{Dissemination\\of\\information\\about the\\licensing\\system}
\Bx{e32}{387}{698}{481}{734}{}{Inspectors and assessors\\trained to use performance\\assessment instruments}
\Bx{e33}{521}{698}{565}{745}{}{Continued\\cooperation\\with\\financing\\institutions}
\Bx{e34}{668}{704}{734}{749}{}{Development of\\assessment\\instruments for\\curricular stages}
% ---- goals
\node[goal] (g1) at (1285,51) {1. Increased\\participation and\\equal opportunities};
\node[goal] (g2) at (1373,51) {2. Excellence in education\\management, based on\\transparency and\\accountability};
\node[goal] (g3) at (1484,51) {3. An effective QM\\system, in\\accordance with\\international\\standards};
\node[goal] (g4) at (1322,100) {4. Teaching quality\\enhanced through\\an effective and\\sustainable system\\for teacher\\preparation and\\professional\\development};
\node[goal] (g5) at (1410,104) {5. The\\quality of\\learning is\\optimised.};
\node[goal] (g6) at (1484,105) {6. VET harmonised\\with labour market\\requirements in\\the country and\\abroad, and an\\open system for\\adult education\\created.};
\node[goal] (g7) at (1397,160) {7. The quality and\\competitiveness of\\HE is upgraded};
\end{tikzpicture}
\end{document}
